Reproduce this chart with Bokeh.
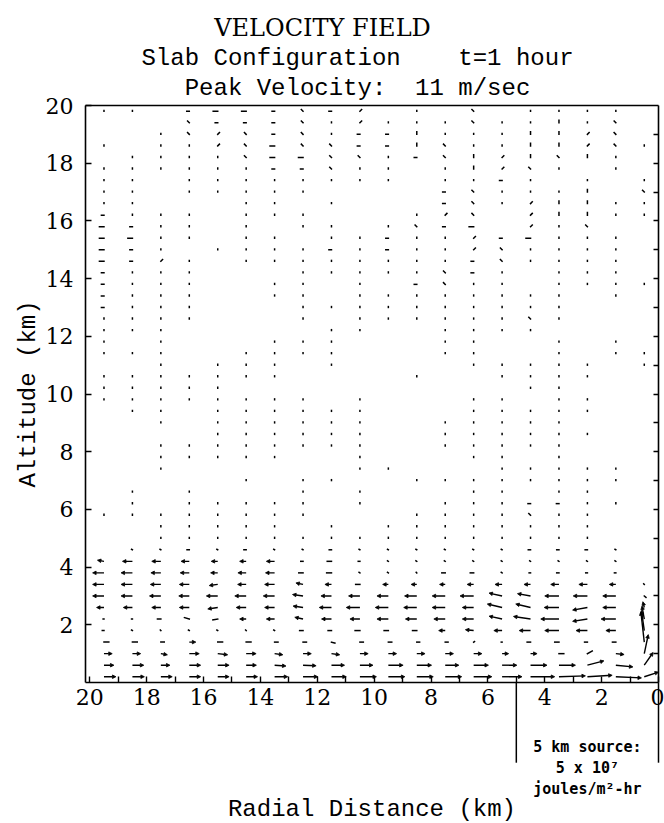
from bokeh.plotting import figure
from bokeh.models import (Range1d, LinearAxis, FixedTicker, ColumnDataSource,
                          Arrow, NormalHead, Label)
from bokeh.embed import file_html
from bokeh.resources import INLINE

# ---------------- data ----------------
# grid columns (radial distance, km) from left (20) to right (0)
X_COLS = [19.5, 18.5, 17.5, 16.5, 15.5, 14.5, 13.5, 12.5, 11.5, 10.5,
          9.5, 8.5, 7.5, 6.5, 5.5, 4.5, 3.5, 2.5, 1.5, 0.5]

# lower layer rows (altitude, km) with measured vectors (m/s)
# U > 0 : outward (away from r=0), W > 0 : upward
Y_LOW = [0.2, 0.6, 1.0, 1.4, 1.8, 2.2, 2.6, 3.0, 3.4, 3.8, 4.2, 4.6]
U_LOW = [
    [-4.2, -4.2, -4.0, -4.0, -4.0, -4.0, -4.6, -5.2, -5.2, -5.8, -5.8, -5.8, -5.8, -6.4, -7.0, -8.5, -9.3, -8.7, -9.0, -5.0],
    [-3.5, -4.0, -3.2, -4.0, -4.0, -3.6, -4.0, -4.6, -4.6, -4.6, -5.2, -5.2, -4.8, -5.2, -5.2, -5.8, -5.8, -5.8, -6.0, -3.1],
    [-2.9, -2.9, -2.3, -3.5, -3.5, -3.5, -2.9, -2.9, -2.9, -2.9, -2.9, -2.9, -2.9, -2.9, -2.3, -2.3, -1.7, -1.7, -2.9, -1.4],
    [-1.7, -1.7, -1.2, -2.3, -1.7, -1.7, -1.2, -1.2, -1.2, -1.2, -1.2, -1.0, -1.0, -0.3, 0.3, 1.2, 1.5, 1.0, 1.2, 1.2],
    [0.6, 0.3, 0.2, 0.3, 0.3, 0.2, 0.3, 1.2, 1.2, 1.7, 1.5, 1.5, 2.3, 2.9, 2.9, 4.0, 5.0, 4.0, 3.5, 1.0],
    [0.3, 0.3, 1.2, 1.7, 1.7, 2.3, 2.9, 2.9, 3.5, 3.5, 4.0, 4.0, 4.0, 4.0, 4.6, 6.0, 6.4, 5.2, 5.2, 0.8],
    [2.6, 3.2, 3.2, 3.5, 3.5, 3.5, 3.5, 3.5, 4.3, 4.8, 4.6, 4.6, 4.6, 4.0, 5.2, 5.2, 5.2, 5.2, 4.6, 0.5],
    [4.0, 4.0, 4.0, 3.7, 4.0, 4.0, 4.0, 3.7, 3.7, 4.0, 4.0, 4.3, 4.6, 4.8, 4.6, 4.6, 5.0, 5.0, 4.6, -0.6],
    [4.0, 4.0, 3.7, 3.5, 3.0, 3.0, 3.5, 2.5, 2.3, 1.5, 2.0, 2.0, 2.0, 2.3, 2.5, 2.3, 2.9, 3.0, 2.3, 0.2],
    [4.0, 4.0, 3.5, 3.2, 2.5, 2.9, 3.2, 1.5, 1.7, 0.3, 0.3, 0.2, 1.2, 1.2, 0.3, 0.5, 0.8, 0.6, 0.5, 0.0],
    [2.3, 3.5, 3.2, 2.9, 2.3, 2.3, 2.9, 0.8, 1.5, 0.6, 0.3, 0.3, 0.3, 0.3, 0.3, 0.3, 0.3, 0.3, 0.3, 0.0],
    [0.0, 0.3, 0.3, 0.8, 0.3, 0.8, 0.3, 0.3, 0.8, 0.3, 0.3, 0.3, 0.3, 0.3, 0.3, 0.8, 0.8, 0.8, 0.3, 0.0],
]
W_LOW = [
    [0, 0, 0, 0, 0, 0, 0, 0, 0, 0, 0, 0, 0, 0, 0, 0, 0.3, 0.5, -0.4, 1.6],
    [0, 0, 0, 0, 0, 0, -0.3, -0.2, 0, 0, 0, 0, 0, 0, 0, 0, 0, 1.5, -0.6, 4.4],
    [0, 0, -0.4, 0, -0.4, 0, -0.4, 0, -0.4, 0, 0, 0, 0, 0, 0, 0, 0, 0.9, -0.3, 6.6],
    [0, 0, 0, 0, 0, 0, 0, 0, -0.3, 0, 0, 0, 0, 0.2, 0, 0, 0, 0, 0, 10.5],
    [0, 0.2, 0.2, 0.2, 0.2, 0.2, 0.2, 0, 0, 0, 0, 0, 0, 0.3, 0, 0, 0, 0, 0, 7.0],
    [0, 0, 0, 0.5, -0.3, 0, 0, 0.6, 0, 0, 0, 0, 0, 0, 1.0, 0.9, 0, -0.8, 0, 4.5],
    [0, 0, 0, 0, -0.5, 0, 0, 0.5, 0, 0, 0, 0, 0, 0, 1.2, 1.2, 0, -0.9, 0, 2.0],
    [0, 0, 0, 0, 0, 0, 0, 0.5, 0, 0, 0, 0, 0, 0, 1.0, 0.8, 0, 0, 0, -0.5],
    [0, 0, 0, 0, -0.4, 0, 0, 0.5, 0, 0, 0, 0, 0, 0, 0, 0, 0, 0, 0, 0.2],
    [0, 0, 0, 0, 0, 0, 0, 0, 0, 0.2, 0.2, 0.2, 0, 0, 0.2, 0, 0, 0, 0, 0],
    [0.4, 0, 0, 0, 0, 0, 0, 0, 0, 0, 0.2, 0.2, 0.2, 0.2, 0.2, 0.2, 0.2, 0.2, 0.2, 0],
    [0, 0.2, 0.2, 0, 0.2, 0, 0.2, 0.2, 0, 0.2, 0.2, 0.2, 0.2, 0.2, 0.2, 0, 0, 0, 0.2, 0],
]

# upper region: small marks per grid cell (one character per column X_COLS)
Y_UPPER = [19.8, 19.4, 19.0, 18.6, 18.2, 17.8, 17.4, 17.0, 16.6, 16.2,
           15.8, 15.4, 15.0, 14.6, 14.2, 13.8, 13.4, 13.0, 12.6, 12.2,
           11.8, 11.4, 11.0, 10.6, 10.2, 9.8, 9.4, 9.0, 8.6, 8.2,
           7.8, 7.4, 7.0, 6.6, 6.2, 5.8, 5.4, 5.0]
UPPER_MARKS = [
    ".. -==-L-R . L .... ",
    "   L---L.R...L..|.L ",
    "  .LRL-L.--|...||RL ",
    ". ..RL=LL--|L..||RL.",
    " ....L==LL.-L|R|L|. ",
    "......--L.. .|RL. . ",
    ".. ........ ..-. . .",
    ".. .....    -L...| L",
    "..   .. .   -L.R||..",
    "-... ...   .RL R||..",
    "=-.. . .. .L-= R.L  ",
    "==.. .. ..-..R-=... ",
    "=-. ....-.-..RL.... ",
    "=-R. ........-L.... ",
    "-...   .....L-. ... ",
    "-...  .. . -L.. ....",
    "-...  .. ........ . ",
    "-...   ..........   ",
    "....   . ......L.   ",
    "...     ..  ....    ",
    ". .   ...   ..  . . ",
    "...  ....   ..  . ..",
    "  . ... .    ..... .",
    ".......    .  ....  ",
    ".....          ..   ",
    "........ .   .. ..  ",
    " .. ......   .....  ",
    "  . ......  .....   ",
    "    ......  ......  ",
    "  ........  .....   ",
    "  .....  .   .. .   ",
    "  .      ..   ..... ",
    "     . ..  ........ ",
    " . .   . .   .. ..  ",
    " . ..... .  ...--.. ",
    "........   ....L..  ",
    "  ..... . ........  ",
    "  ................  ",
]
# vector (U, W) in m/s represented by each mark character
MARK_UV = {".": (0.0, 0.3), "-": (0.9, 0.0), "=": (1.6, 0.0),
           "|": (0.0, 0.9), "L": (0.6, 0.6), "R": (-0.6, 0.6)}

X_TICKS = [0, 2, 4, 6, 8, 10, 12, 14, 16, 18, 20]
X_MINOR = [1, 3, 5, 7, 9, 11, 13, 15, 17, 19]
Y_TICKS = [2, 4, 6, 8, 10, 12, 14, 16, 18, 20]
RIGHT_TICKS = [1, 2, 3, 4, 5, 6, 7, 8, 9, 10, 11, 12, 13, 14, 15, 16, 17, 18, 19]
SOURCE_EDGE_KM = 5

NB = "\u00a0"
TITLE_1 = "VELOCITY FIELD"
TITLE_2 = "Slab Configuration" + NB * 4 + "t=1 hour"
TITLE_3 = "Peak Velocity:" + NB * 2 + "11 m/sec"
SOURCE_TEXT = ["5 km source:", "5 x 10\u2077", "joules/m\u00b2-hr"]

# ---------------- build vectors ----------------
S = 0.1  # km of arrow per m/s
assert all(len(r) == len(X_COLS) for r in UPPER_MARKS)
assert len(UPPER_MARKS) == len(Y_UPPER)

vecs = []
for j, yv in enumerate(Y_LOW):
    for i, xv in enumerate(X_COLS):
        u, w = U_LOW[j][i], W_LOW[j][i]
        if u == 0 and w == 0:
            continue
        vecs.append((xv, yv, u, w))
for j, yv in enumerate(Y_UPPER):
    for i, ch in enumerate(UPPER_MARKS[j]):
        if ch == " ":
            continue
        u, w = MARK_UV[ch]
        vecs.append((X_COLS[i], yv, u, w))

short = dict(x0=[], y0=[], x1=[], y1=[])
long_ = dict(x0=[], y0=[], x1=[], y1=[])
for xv, yv, u, w in vecs:
    mag = (u * u + w * w) ** 0.5
    d = long_ if mag >= 2.0 else short
    d["x0"].append(xv)
    d["y0"].append(yv)
    d["x1"].append(xv + u * S)
    d["y1"].append(yv + w * S)

# ---------------- layout (page pixels) ----------------
W, H = 664, 823
FL, FR, FT, FB = 85, 658, 105, 682      # where the data box sits on the page
XL, XR, YB, YT = 20.15, 0.0, 0.0, 20.0  # data box limits
kx = (FR - FL) / (XL - XR)
ky = (FB - FT) / (YT - YB)
x_range = Range1d(XL + FL / kx, XR - (W - FR) / kx)
y_range = Range1d(YB - (H - FB) / ky, YT + FT / ky)

MONO = "Liberation Mono"
SERIF = "DejaVu Serif"

p = figure(width=W, height=H, output_backend="svg", toolbar_location=None,
           x_range=x_range, y_range=y_range,
           min_border_left=0, min_border_right=0, min_border_top=0,
           min_border_bottom=0, title=None)
p.background_fill_color = "white"
p.border_fill_color = "white"
p.xgrid.visible = False
p.ygrid.visible = False
p.outline_line_color = None

# bottom axis (drawn at altitude 0)
xa = p.xaxis[0]
xa.fixed_location = YB
xa.bounds = (XR, XL)
xa.ticker = FixedTicker(ticks=X_TICKS, minor_ticks=X_MINOR)
xa.major_tick_in = 6
xa.major_tick_out = 0
xa.minor_tick_in = 6
xa.minor_tick_out = 0
xa.axis_line_width = 1.6
xa.major_tick_line_width = 1.4
xa.minor_tick_line_width = 1.4
xa.major_label_text_font = SERIF
xa.major_label_text_font_size = "22px"
xa.major_label_text_color = "black"
xa.major_label_standoff = 6
xa.axis_label = "Radial Distance (km)"
xa.axis_label_text_font = MONO
xa.axis_label_text_font_size = "24px"
xa.axis_label_text_font_style = "normal"
xa.axis_label_text_color = "black"
xa.axis_label_standoff = 88

# left axis (drawn at the left edge of the data box)
ya = p.yaxis[0]
ya.fixed_location = XL
ya.bounds = (YB, YT)
ya.ticker = FixedTicker(ticks=Y_TICKS, minor_ticks=[])
ya.major_tick_in = 6
ya.major_tick_out = 0
ya.minor_tick_line_color = None
ya.axis_line_width = 1.6
ya.major_tick_line_width = 1.4
ya.major_label_text_font = SERIF
ya.major_label_text_font_size = "22px"
ya.major_label_text_color = "black"
ya.major_label_standoff = 12
ya.axis_label = "Altitude (km)"
ya.axis_label_text_font = MONO
ya.axis_label_text_font_size = "24px"
ya.axis_label_text_font_style = "normal"
ya.axis_label_text_color = "black"
ya.axis_label_standoff = 1

# right axis: inward ticks every km, no labels
ra = LinearAxis(fixed_location=XR, bounds=(YB, YT),
                ticker=FixedTicker(ticks=RIGHT_TICKS, minor_ticks=[]),
                major_tick_in=5, major_tick_out=0, major_tick_line_width=1.4,
                minor_tick_line_color=None, axis_line_width=1.6,
                major_label_text_color=None)
p.add_layout(ra, "right")

# top border
ta = LinearAxis(fixed_location=YT, bounds=(XR, XL),
                ticker=FixedTicker(ticks=[], minor_ticks=[]),
                major_tick_line_color=None, minor_tick_line_color=None,
                axis_line_width=1.6, major_label_text_color=None)
p.add_layout(ta, "above")

# vectors
p.segment(x0="x0", y0="y0", x1="x1", y1="y1", source=ColumnDataSource(short),
          line_color="black", line_width=1.5, line_cap="square")
p.add_layout(Arrow(source=ColumnDataSource(long_), x_start="x0", y_start="y0",
                   x_end="x1", y_end="y1", line_color="black", line_width=1.4,
                   end=NormalHead(size=3.5, fill_color="black", line_color="black",
                                  line_width=0.8)))

# source box below the axis
for xe in (SOURCE_EDGE_KM, XR):
    p.add_layout(Arrow(x_start=xe, y_start=0, x_end=xe, y_end=-2.78, end=None,
                       line_color="black", line_width=1.5))
for txt, yy in zip(SOURCE_TEXT, [-2.22, -2.95, -3.68]):
    p.add_layout(Label(x=2.5, y=yy, text=txt, text_align="center",
                       text_baseline="middle", text_font="DejaVu Sans Mono",
                       text_font_size="15px", text_font_style="bold",
                       text_color="black"))

# titles (screen units: from the bottom-left of the page)
for txt, cx, base, font, size in [(TITLE_1, 322, 27, SERIF, "24px"),
                                  (TITLE_2, 357, 58, MONO, "24px"),
                                  (TITLE_3, 357, 88, MONO, "24px")]:
    p.add_layout(Label(x=cx, y=H - base, x_units="screen", y_units="screen",
                       text=txt, text_align="center", text_baseline="alphabetic",
                       text_font=font, text_font_size=size, text_color="black"))

open("out.html", "w").write(file_html(p, INLINE))
